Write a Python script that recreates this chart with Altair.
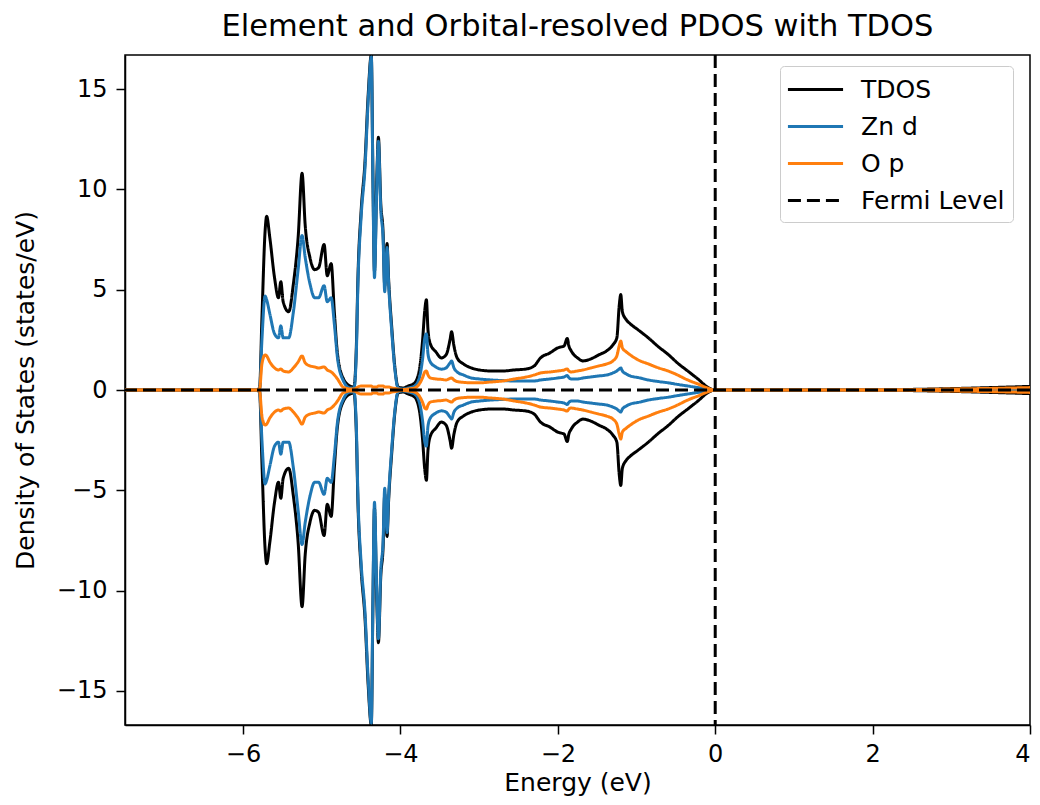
import altair as alt
import pandas as pd

# Energy grid (eV)
energy = [
    -7.50, -5.84, -5.79, -5.76, -5.72, -5.70, -5.66, -5.60, -5.55, -5.52, -5.49, -5.42, -5.36,
    -5.30, -5.25, -5.21, -5.15, -5.09, -5.04, -4.97, -4.93, -4.88, -4.84, -4.80, -4.73, -4.64,
    -4.59, -4.56, -4.54, -4.50, -4.45, -4.41, -4.37, -4.35, -4.33, -4.30, -4.28, -4.25, -4.22,
    -4.20, -4.17, -4.15, -4.11, -4.07, -4.03,
    -3.97, -3.90, -3.82, -3.76, -3.72, -3.69, -3.67, -3.65, -3.62, -3.55, -3.48, -3.42, -3.37,
    -3.35, -3.32, -3.28, -3.20, -3.10, -3.00, -2.85, -2.70, -2.55, -2.40, -2.30, -2.22, -2.10,
    -2.00, -1.92, -1.88, -1.86, -1.83, -1.75, -1.68, -1.58, -1.48, -1.38, -1.30, -1.25, -1.22,
    -1.20, -1.18, -1.13, -1.08, -0.98, -0.85, -0.72, -0.60, -0.48, -0.35, -0.22, -0.10, 0.00,
    1.00, 2.00, 2.50, 3.00, 3.50, 4.00,
]

# Spin-up densities (states/eV); spin-down is the mirror image
tdos_up = [
    0.0, 0.0, 0.1, 3.6, 7.9, 8.66, 7.6, 5.6, 4.6, 5.4, 4.4, 3.9, 5.3,
    7.6, 10.8, 8.2, 6.6, 6.0, 6.1, 7.25, 5.7, 6.3, 3.9, 1.8, 0.6, 0.2,
    0.15, 2.2, 5.6, 8.9, 11.4, 14.7, 16.7, 10.8, 5.9, 10.6, 12.6, 9.3, 7.8,
    5.2, 7.3, 5.5, 3.1, 1.1, 0.15,
    0.1, 0.2, 0.35, 1.0, 2.4, 4.0, 4.5, 3.0, 2.3, 1.9, 1.6, 1.75, 2.5,
    2.9, 2.2, 1.6, 1.3, 1.1, 1.0, 0.95, 0.95, 1.0, 1.05, 1.2, 1.6, 1.85,
    2.1, 2.2, 2.57, 2.2, 1.95, 1.6, 1.45, 1.55, 1.75, 1.95, 2.25, 2.6, 4.2,
    4.76, 3.9, 3.5, 3.3, 3.0, 2.6, 2.15, 1.78, 1.35, 0.95, 0.55, 0.15, 0.0,
    0.0, 0.01, 0.03, 0.07, 0.12, 0.18,
]

zn_d_up = [
    0.0, 0.0, 0.05, 2.5, 4.68, 4.5, 3.8, 2.8, 2.6, 3.2, 2.6, 2.6, 3.9,
    6.0, 7.7, 6.6, 5.3, 4.6, 4.6, 5.2, 4.4, 4.6, 3.3, 1.6, 0.5, 0.1,
    0.1, 1.9, 5.3, 8.6, 11.1, 14.4, 16.6, 10.5, 5.6, 10.3, 12.4, 9.0, 7.5,
    4.9, 7.1, 5.3, 2.9, 1.0, 0.1,
    0.05, 0.1, 0.2, 0.6, 1.5, 2.6, 2.8, 1.8, 1.4, 1.15, 1.04, 1.1, 1.35,
    1.44, 1.1, 0.9, 0.75, 0.6, 0.55, 0.5, 0.47, 0.45, 0.45, 0.45, 0.5, 0.55,
    0.6, 0.65, 0.72, 0.62, 0.55, 0.55, 0.6, 0.65, 0.7, 0.75, 0.85, 0.95, 1.05,
    1.1, 0.95, 0.8, 0.7, 0.62, 0.5, 0.42, 0.36, 0.28, 0.2, 0.12, 0.05, 0.0,
    0.0, 0.0, 0.0, 0.01, 0.02, 0.03,
]

o_p_up = [
    0.0, 0.0, 0.05, 1.3, 1.75, 1.7, 1.4, 1.1, 1.0, 1.05, 0.95, 0.9, 1.1,
    1.4, 1.7, 1.35, 1.2, 1.15, 1.1, 1.15, 1.0, 0.9, 0.75, 0.55, 0.15, 0.05,
    0.05, 0.1, 0.15, 0.2, 0.2, 0.2, 0.2, 0.15, 0.15, 0.15, 0.2, 0.2, 0.2,
    0.15, 0.15, 0.15, 0.1, 0.08, 0.05,
    0.02, 0.05, 0.1, 0.3, 0.6, 0.9, 0.95, 0.75, 0.6, 0.55, 0.53, 0.5, 0.58,
    0.6, 0.5, 0.42, 0.38, 0.36, 0.36, 0.4, 0.45, 0.55, 0.65, 0.75, 0.85, 0.9,
    0.95, 1.0, 1.05, 0.95, 0.9, 0.95, 1.0, 1.1, 1.2, 1.3, 1.45, 1.7, 2.2,
    2.44, 2.1, 1.9, 1.75, 1.5, 1.3, 1.1, 0.95, 0.75, 0.5, 0.3, 0.1, 0.0,
    0.0, 0.01, 0.02, 0.05, 0.08, 0.12,
]

fermi_level = [0.0]
zero_line = [0.0]

series_names = ["TDOS", "Zn d", "O p", "Fermi Level"]
series_colors = ["#000000", "#1f77b4", "#ff7f0e", "#000000"]
series_dashes = [[1, 0], [1, 0], [1, 0], [13, 6]]
x_ticks = [-6, -4, -2, 0, 2, 4]
y_ticks = [-15, -10, -5, 0, 5, 10, 15]

rows = []
for name, vals in [("TDOS", tdos_up), ("Zn d", zn_d_up), ("O p", o_p_up)]:
    for e, v in zip(energy, vals):
        rows.append({"energy": e, "dos": v, "series": name, "spin": "up"})
        rows.append({"energy": e, "dos": -v, "series": name, "spin": "down"})
df = pd.DataFrame(rows)

FONT = "DejaVu Sans"

x_scale = alt.Scale(domain=[-7.5, 4.0], nice=False, zero=False)
y_scale = alt.Scale(domain=[-16.7, 16.7], nice=False, zero=False)

x_axis = alt.Axis(title="Energy (eV)", values=x_ticks, grid=False, tickSize=9, tickWidth=1.5,
                  tickColor="black", domainColor="black", domainWidth=1.5,
                  labelFont=FONT, labelFontSize=24, labelColor="black", labelPadding=8,
                  titleFont=FONT, titleFontSize=25, titleFontWeight="normal",
                  titleColor="black", titlePadding=4)
y_axis = alt.Axis(title="Density of States (states/eV)", values=y_ticks, grid=False,
                  tickSize=9, tickWidth=1.5, tickColor="black", domainColor="black",
                  domainWidth=1.5, labelFont=FONT, labelFontSize=24, labelColor="black",
                  labelPadding=9, titleFont=FONT, titleFontSize=25,
                  titleFontWeight="normal", titleColor="black", titlePadding=18)

legend = alt.Legend(title=None, orient="none", legendX=655, legendY=11,
                    symbolType="M-2,0H2", symbolSize=760, symbolStrokeWidth=3,
                    symbolOffset=12,
                    labelFont=FONT, labelFontSize=25, labelColor="black", labelOffset=30,
                    rowPadding=8, padding=8, strokeColor="#cccccc", fillColor="white",
                    cornerRadius=4)

color_enc = alt.Color("series:N", scale=alt.Scale(domain=series_names, range=series_colors),
                      legend=legend)
dash_enc = alt.StrokeDash("series:N",
                          scale=alt.Scale(domain=series_names, range=series_dashes),
                          legend=legend)

layers = []
for name in ["TDOS", "Zn d", "O p"]:
    layers.append(
        alt.Chart(df).transform_filter(alt.datum.series == name)
        .mark_line(strokeWidth=3, interpolate="monotone", clip=True)
        .encode(x=alt.X("energy:Q", scale=x_scale, axis=x_axis),
                y=alt.Y("dos:Q", scale=y_scale, axis=y_axis),
                color=color_enc, strokeDash=dash_enc, detail="spin:N")
    )

fermi_df = pd.DataFrame({"energy": fermi_level, "series": ["Fermi Level"]})
layers.append(
    alt.Chart(fermi_df).mark_rule(strokeWidth=3)
    .encode(x=alt.X("energy:Q", scale=x_scale, axis=x_axis), color=color_enc, strokeDash=dash_enc)
)

zero_df = pd.DataFrame({"dos": zero_line})
layers.append(
    alt.Chart(zero_df).mark_rule(strokeWidth=3, color="black", strokeDash=[13, 6])
    .encode(y=alt.Y("dos:Q", scale=y_scale, axis=y_axis))
)

chart = alt.layer(*layers).properties(
    width=905, height=670,
    title=alt.Title("Element and Orbital-resolved PDOS with TDOS", font=FONT, fontSize=30.5,
                    fontWeight="normal", color="black", offset=11),
    autosize=alt.AutoSizeParams(type="none"),
    padding={"left": 125, "top": 55, "right": 10, "bottom": 80},
    background="white",
).configure_view(stroke="black", strokeWidth=1.5)

chart.save("out.html", embed_options={"renderer": "svg", "actions": False})
